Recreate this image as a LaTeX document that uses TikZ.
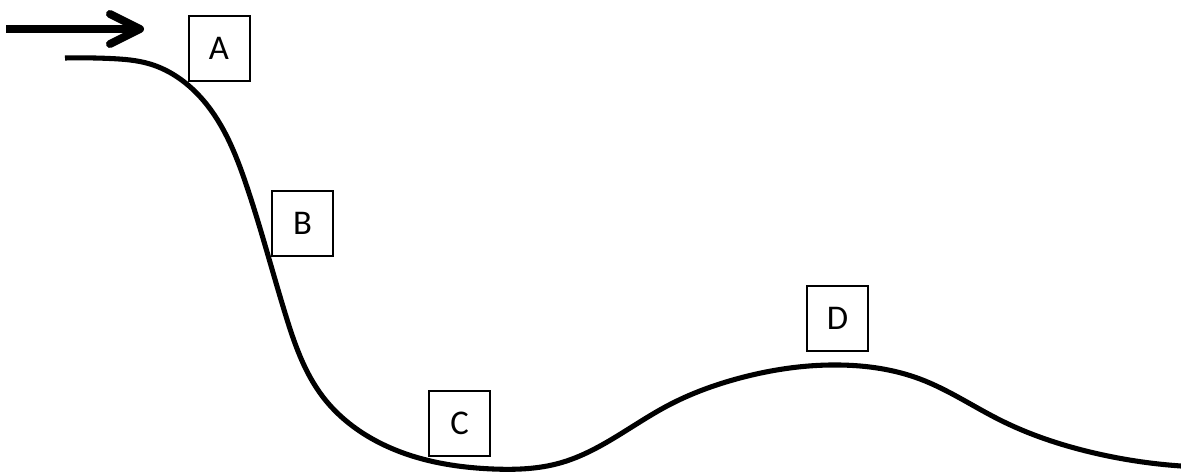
\documentclass[tikz,border=0pt]{standalone}
\usepackage{fontspec}
\setmainfont{Carlito}
\usetikzlibrary{hobby}
\begin{document}
\begin{tikzpicture}[x=0.75pt,y=-0.75pt,
  lbox/.style={draw,line width=1.5pt,minimum width=45.75pt,minimum height=48.75pt,inner sep=0pt,font=\fontsize{26}{30}\selectfont},
  track/.style={line width=3.8pt,line join=round},
  arr/.style={line width=6pt}]
\useasboundingbox (0,0) rectangle (1181,471);
% track
\draw[track,use Hobby shortcut] (65,58) .. (110,58.5) .. (150,64) .. (203,100) .. (247,187) .. (285,313) .. (323,397) .. (380,443) .. (493,469) .. (560,463) .. (667,406) .. (740,378) .. (840,365) .. (920,379) .. (1000,420) .. (1090,452) .. (1181,466);
% arrow
\coordinate (s0) at (6,29);
\coordinate (s1) at (136,29);
\coordinate (h1) at (110,14);
\coordinate (tip) at (140,29);
\coordinate (h2) at (110,44);
\draw[arr] (s0) -- (s1);
\draw[arr,line cap=round,line join=round] (h1) -- (tip) -- (h2);
% labels
\node[lbox,fill=white] (A) at (219,48.5) {A};
\node[lbox,fill=white] (B) at (302.5,223.5) {B};
\node[lbox,fill=white] (C) at (459.5,423) {C};
\node[lbox,fill=white] (D) at (837.5,318.5) {D};
\end{tikzpicture}
\end{document}
